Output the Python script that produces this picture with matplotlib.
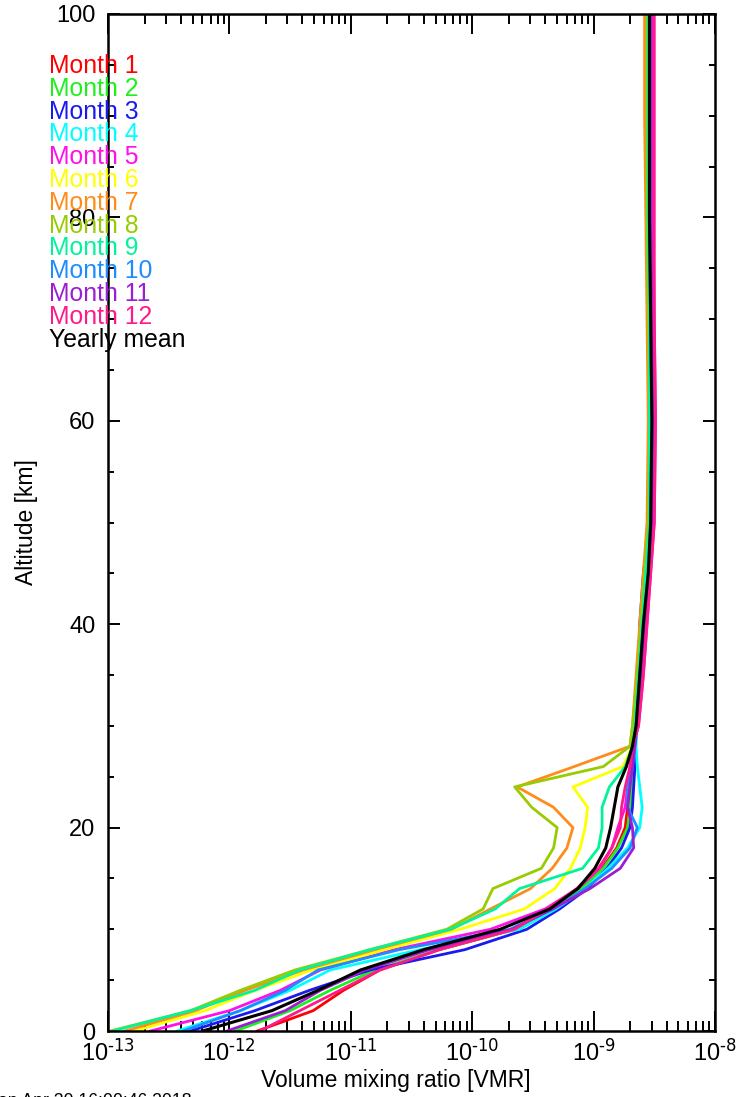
import numpy as np
import matplotlib
matplotlib.use("Agg")
import matplotlib.pyplot as plt
from matplotlib.ticker import MultipleLocator, FuncFormatter, LogLocator, NullFormatter

plt.rcParams['font.family'] = ['Liberation Sans', 'DejaVu Sans']
plt.rcParams['mathtext.default'] = 'regular'

# altitude grid [km]
altitude = [0, 2, 4, 6, 8, 10, 12, 14, 16, 18, 20, 22, 24, 26, 28, 30,
            35, 40, 45, 50, 60, 70, 80, 90, 100]

# log10 of the volume mixing ratio, one profile per month
log_m1 = [-11.77, -11.31, -11.06, -10.76, -10.27, -9.65, -9.36, -9.11, -8.93, -8.81, -8.74, -8.72, -8.70,
          -8.69, -8.68, -8.64, -8.61, -8.58, -8.54, -8.52, -8.51, -8.52, -8.53, -8.54, -8.54]
log_m2 = [-11.95, -11.50, -11.17, -10.80, -10.27, -9.65, -9.36, -9.10, -8.92, -8.80, -8.72, -8.70, -8.68,
          -8.68, -8.67, -8.65, -8.62, -8.59, -8.56, -8.54, -8.53, -8.54, -8.54, -8.55, -8.55]
log_m3 = [-12.32, -11.79, -11.34, -10.84, -10.06, -9.55, -9.28, -9.05, -8.89, -8.77, -8.70, -8.68, -8.67,
          -8.66, -8.66, -8.65, -8.63, -8.62, -8.59, -8.54, -8.53, -8.54, -8.54, -8.54, -8.54]
log_m4 = [-12.43, -11.91, -11.50, -11.17, -10.43, -9.61, -9.31, -9.07, -8.88, -8.72, -8.62, -8.60, -8.62,
          -8.64, -8.65, -8.64, -8.61, -8.58, -8.55, -8.53, -8.52, -8.53, -8.54, -8.54, -8.54]
log_m5 = [-12.65, -12.00, -11.58, -11.25, -10.64, -9.85, -9.40, -9.13, -8.95, -8.85, -8.80, -8.74, -8.72,
          -8.70, -8.68, -8.63, -8.59, -8.56, -8.53, -8.50, -8.49, -8.50, -8.51, -8.51, -8.51]
log_m6 = [-12.78, -12.20, -11.79, -11.32, -10.72, -10.10, -9.57, -9.32, -9.19, -9.11, -9.07, -9.05, -9.17,
          -8.76, -8.68, -8.67, -8.64, -8.61, -8.58, -8.55, -8.54, -8.55, -8.56, -8.57, -8.57]
log_m7 = [-12.86, -12.28, -11.87, -11.39, -10.80, -10.17, -9.85, -9.52, -9.34, -9.22, -9.17, -9.33, -9.63,
          -9.16, -8.70, -8.68, -8.65, -8.62, -8.59, -8.56, -8.55, -8.56, -8.57, -8.58, -8.58]
log_m8 = [-12.98, -12.32, -11.91, -11.46, -10.84, -10.21, -9.91, -9.83, -9.43, -9.33, -9.30, -9.51, -9.65,
          -8.92, -8.70, -8.68, -8.64, -8.61, -8.58, -8.55, -8.54, -8.55, -8.56, -8.56, -8.56]
log_m9 = [-12.96, -12.32, -11.79, -11.42, -10.84, -10.18, -9.81, -9.61, -9.09, -8.96, -8.93, -8.93, -8.87,
          -8.74, -8.68, -8.66, -8.63, -8.60, -8.57, -8.54, -8.54, -8.54, -8.55, -8.55, -8.55]
log_m10 = [-12.38, -11.91, -11.54, -11.27, -10.60, -9.69, -9.33, -9.07, -8.85, -8.70, -8.64, -8.72, -8.72,
           -8.68, -8.66, -8.65, -8.62, -8.59, -8.55, -8.53, -8.52, -8.53, -8.54, -8.54, -8.54]
log_m11 = [-12.02, -11.54, -11.25, -10.88, -10.35, -9.67, -9.34, -9.03, -8.78, -8.67, -8.68, -8.72, -8.70,
           -8.68, -8.66, -8.64, -8.61, -8.58, -8.54, -8.52, -8.51, -8.52, -8.53, -8.53, -8.53]
log_m12 = [-11.75, -11.42, -11.09, -10.76, -10.27, -9.65, -9.38, -9.14, -8.96, -8.85, -8.78, -8.77, -8.74,
           -8.70, -8.68, -8.63, -8.59, -8.56, -8.53, -8.50, -8.49, -8.50, -8.50, -8.50, -8.50]
log_mean = [-12.22, -11.65, -11.27, -10.92, -10.40, -9.77, -9.36, -9.13, -8.99, -8.90, -8.86, -8.83, -8.80,
            -8.73, -8.68, -8.65, -8.62, -8.59, -8.55, -8.53, -8.52, -8.53, -8.54, -8.54, -8.54]

monthly = [log_m1, log_m2, log_m3, log_m4, log_m5, log_m6,
           log_m7, log_m8, log_m9, log_m10, log_m11, log_m12]
labels = ["Month %d" % (i + 1) for i in range(12)] + ["Yearly mean"]
colors = ['#ff0000', '#1ef01e', '#1a1aee', '#00ffff', '#ff10e8', '#ffff00',
          '#ff8c1a', '#99cc00', '#00f59a', '#1e8cff', '#9a1ed2', '#ff1a8c', '#000000']

fig = plt.figure(figsize=(7.41, 10.97), dpi=100)
ax = fig.add_axes([108 / 741, 66 / 1097, 607 / 741, 1017 / 1097])

for prof, col in zip(monthly, colors[:12]):
    ax.plot(10 ** np.array(prof), altitude, color=col, lw=2.0)
ax.plot(10 ** np.array(log_mean), altitude, color='black', lw=2.2)

ax.set_xscale('log')
ax.set_xlim(1e-13, 1e-8)
ax.set_ylim(0, 100)

ax.xaxis.set_major_locator(LogLocator(base=10, numticks=10))
ax.xaxis.set_minor_locator(LogLocator(base=10, subs=np.arange(2, 10), numticks=20))
ax.xaxis.set_major_formatter(FuncFormatter(lambda v, p: r'$10^{\text{-%d}}$' % abs(round(np.log10(v)))))
ax.xaxis.set_minor_formatter(NullFormatter())
ax.yaxis.set_major_locator(MultipleLocator(20))
ax.yaxis.set_minor_locator(MultipleLocator(5))

ax.tick_params(axis='x', which='major', direction='in', length=14.4, width=1.4,
               top=True, bottom=True, labelsize=17, pad=6)
ax.tick_params(axis='x', which='minor', direction='in', length=7.2, width=1.4,
               top=True, bottom=True)
ax.tick_params(axis='y', which='major', direction='in', length=8.6, width=1.4,
               left=True, right=True, labelsize=17, pad=9)
ax.tick_params(axis='y', which='minor', direction='in', length=4.3, width=1.4,
               left=True, right=True)
for s in ax.spines.values():
    s.set_linewidth(1.8)

ax.set_xlabel("Volume mixing ratio [VMR]", fontsize=16.5)
ax.xaxis.set_label_coords(0.4745, -0.037)
ax.set_ylabel("Altitude [km]", fontsize=16.5)
ax.yaxis.set_label_coords(-0.115, 0.5)

# legend as coloured text lines
for i, (lab, col) in enumerate(zip(labels, colors)):
    fig.text(49 / 741, 1 - (66 + 22.8 * i) / 1097, lab, color=col,
             fontsize=17.8, ha='left', va='center')

fig.text(-17 / 741, -9 / 1097, "Mon Apr 30 16:00:46 2018", fontsize=12.7,
         ha='left', va='baseline')

fig.savefig("out.png", dpi=100)
